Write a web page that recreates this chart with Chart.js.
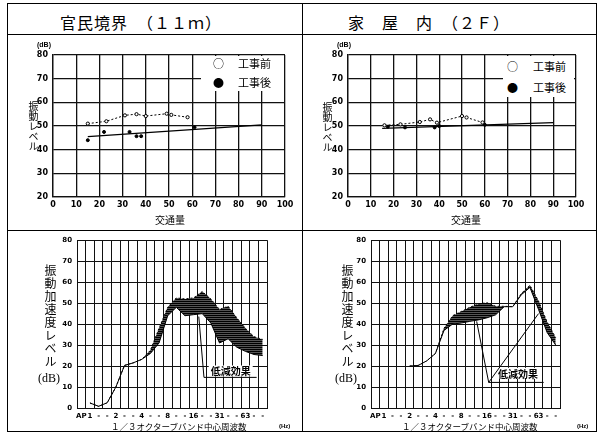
<!DOCTYPE html>
<html>
<head>
<meta charset="utf-8">
<script src="https://cdn.jsdelivr.net/npm/chart.js@4.4.0/dist/chart.umd.min.js"></script>
<style>
body { margin:0; background:#fff; }
#page { position:relative; width:601px; height:434px; overflow:hidden; font-family:"Noto Sans CJK JP", sans-serif; color:#000; }
#page div, #page canvas { position:absolute; }
.ln { background:#000; }
.ttl { font-size:16px; letter-spacing:1px; white-space:nowrap; top:13px; line-height:18px; }
.vt { writing-mode:vertical-rl; text-orientation:upright; white-space:nowrap; }
.sm { font-family:"Liberation Sans", sans-serif; font-size:7px; font-weight:bold; white-space:nowrap; line-height:8px; }
.xt { font-size:10px; line-height:12px; white-space:nowrap; }
.lg { background:#fff; font-size:11px; line-height:14px; }
.lg div { white-space:nowrap; }
.bx { font-size:8.5px; line-height:11px; white-space:nowrap; }
</style>
</head>
<body>
<div id="page">
  <!-- frame -->
  <div style="left:7px;top:3px;width:588px;height:427px;border:1px solid #000"></div>
  <div class="ln" style="left:302px;top:3px;width:1px;height:429px"></div>
  <div class="ln" style="left:7px;top:34px;width:590px;height:1px"></div>
  <div class="ln" style="left:7px;top:230px;width:590px;height:1px"></div>

  <div class="ttl" style="left:60px">官民境界　（１１ｍ）</div>
  <div class="ttl" style="left:348px">家　屋　内　（２Ｆ）</div>

  <canvas id="c1" width="293" height="180" style="left:8px;top:35px"></canvas>
  <canvas id="c2" width="293" height="180" style="left:303px;top:35px"></canvas>
  <canvas id="c3" width="293" height="200" style="left:8px;top:231px"></canvas>
  <canvas id="c4" width="293" height="200" style="left:303px;top:231px"></canvas>

  <!-- top axis texts -->
  <div class="sm" style="left:37px;top:41px">(dB)</div>
  <div class="sm" style="left:337px;top:41px">(dB)</div>
  <div class="vt" style="left:28px;top:101px;font-size:10px;line-height:10px">振動レベル</div>
  <div class="vt" style="left:322px;top:102px;font-size:10px;line-height:10px">振動レベル</div>
  <div class="xt" style="left:155px;top:214px">交通量</div>
  <div class="xt" style="left:451px;top:214px">交通量</div>

  <!-- legends -->
  <div class="lg" style="left:201px;top:56px;width:83px;height:35px">
    <div style="left:12px;top:0">○</div><div style="left:37px;top:0">工事前</div>
    <div style="left:12px;top:19px">●</div><div style="left:37px;top:19px">工事後</div>
  </div>
  <div class="lg" style="left:503px;top:56px;width:71px;height:41px">
    <div style="left:4px;top:3px">○</div><div style="left:30px;top:3px">工事前</div>
    <div style="left:4px;top:24px">●</div><div style="left:30px;top:24px">工事後</div>
  </div>

  <!-- bottom axis texts -->
  <div class="vt" style="left:44px;top:264px;font-size:12px;line-height:12px;letter-spacing:1px">振動加速度レベル</div>
  <div class="vt" style="left:341px;top:264px;font-size:12px;line-height:12px;letter-spacing:1px">振動加速度レベル</div>
  <div style="left:38px;top:371px;font-family:'Liberation Serif';font-size:12px;line-height:14px">(dB)</div>
  <div style="left:335px;top:371px;font-family:'Liberation Serif';font-size:12px;line-height:14px">(dB)</div>
  <div class="bx" style="left:111px;top:421px">１／３オクターブバンド中心周波数</div>
  <div class="bx" style="left:402px;top:421px">１／３オクターブバンド中心周波数</div>
  <div class="sm" style="left:279px;top:422px;font-size:6px">(Hz)</div>
  <div class="sm" style="left:577px;top:422px;font-size:6px">(Hz)</div>
</div>

<script>
// 交通量 - 振動レベル (官民境界)
var trafficBeforeL = [15, 23, 31, 36, 40, 49, 51, 58];
var levelBeforeL = [51, 52, 54.5, 55, 54.2, 55.2, 54.7, 53.7];
var trafficAfterL = [15, 22, 33, 36, 38, 61];
var levelAfterL = [44, 47.5, 47.5, 45.7, 45.7, 49.5];
var fitX = [15, 90];
var fitL = [45.5, 50.5];

// 交通量 - 振動レベル (家屋内)
var trafficBeforeR = [16, 23, 31.5, 36, 39, 50, 52, 59];
var levelBeforeR = [50.3, 50.7, 51.7, 52.8, 51.4, 54.2, 53.6, 51.5];
var trafficAfterR = [17.5, 25, 38, 40, 60];
var levelAfterR = [49.7, 49.4, 49.4, 50, 50.5];
var fitR = [49, 51.4];

// 1/3 octave band spectra
var bandLabels = ['AP','1','-','-','2','-','-','4','-','-','8','-','-','16','-','-','31','-','-','63','-','-'];
var specBeforeL = [null, 2.4, 0.8, 2.5, 10, 20.3, 21.5, 23.2, 27.5, 38, 48, 52.5, 52, 52.5, 55.5, 52, 47, 48.5, 43, 38, 34, 32.7];
var specAfterL  = [null, 2.4, 0.8, 2.5, 10, 20.3, 21.5, 23.2, 26, 31, 44, 48, 44, 44.5, 45, 40.5, 31, 33, 29, 27, 25.5, 25];
var specBeforeR = [null, null, null, null, 20, 20.3, 22.5, 26, 38, 44, 46, 48, 49.6, 50.2, 48.5, 48.5, 48.3, 54.6, 58.5, 51, 41, 33.5];
var specAfterR  = [null, null, null, null, 20, 20.3, 22.5, 26, 37, 40, 40.5, 41.3, 42, 43, 44.4, 48.3, 48.3, 54, 57.5, 47, 36, 30];

// 低減効果 leaders (band index, dB)
var leaderL = [[[13.6, 43.6], [14.2, 14.6], [20.3, 14.6]]];
var leaderR = [[[11.8, 41.3], [13.2, 12.2], [19.0, 45]], [[13.2, 12.2], [19.6, 12.2]]];
var labelAtL = [17.3, 17.4];
var labelAtR = [16.6, 16.3];

Chart.defaults.font.family = '"Noto Sans CJK JP", sans-serif';
var tickFont = {family: '"DejaVu Sans", sans-serif', size: 8, weight: 'bold'};

function pts(xs, ys) {
  return xs.map(function(x, i) { return {x: x, y: ys[i]}; });
}

function topChart(id, bx, by, ax, ay, fit, padR) {
  new Chart(document.getElementById(id), {
    type: 'scatter',
    data: {
      datasets: [
        {label: '工事前', data: pts(bx, by), showLine: true, borderDash: [2, 2], borderColor: '#000', borderWidth: 1,
         pointRadius: 1.6, pointBackgroundColor: '#fff', pointBorderColor: '#000', pointBorderWidth: 1},
        {label: '工事後', data: pts(ax, ay), showLine: false, pointRadius: 1.5, pointBackgroundColor: '#000', pointBorderColor: '#000'},
        {label: 'fit', data: pts(fitX, fit), showLine: true, borderColor: '#000', borderWidth: 1.2, pointRadius: 0}
      ]
    },
    options: {
      responsive: false, animation: false,
      layout: {padding: {left: 0, right: padR, top: 20, bottom: 0}},
      plugins: {legend: {display: false}, tooltip: {enabled: false}},
      scales: {
        x: {type: 'linear', min: 0, max: 100,
            ticks: {stepSize: 10, padding: 3, font: tickFont, color: '#000', maxRotation: 0},
            grid: {color: '#111', lineWidth: 1.3, drawTicks: false}, border: {color: '#111', width: 1.3},
            afterFit: function(s) { s.height = 18; }},
        y: {min: 20, max: 80,
            ticks: {stepSize: 10, padding: 5, font: tickFont, color: '#000'},
            grid: {color: '#111', lineWidth: 1.3, drawTicks: false}, border: {color: '#111', width: 1.3},
            afterFit: function(s) { s.width = 45; }}
      }
    }
  });
}

function hatch() {
  var c = document.createElement('canvas');
  c.width = 4; c.height = 2;
  var g = c.getContext('2d');
  g.fillStyle = '#555'; g.fillRect(0, 0, 4, 2);
  g.fillStyle = '#000'; g.fillRect(0, 0, 4, 1);
  return g.createPattern(c, 'repeat');
}

var leaderPlugin = {
  id: 'leader',
  afterDatasetsDraw: function(chart, args, opts) {
    var x = chart.scales.x, y = chart.scales.y, ctx = chart.ctx;
    ctx.save();
    var lx = x.getPixelForValue(opts.at[0]), ly = y.getPixelForValue(opts.at[1]);
    ctx.font = 'bold 10px "Noto Sans CJK JP"';
    var w = ctx.measureText(opts.text).width;
    ctx.fillStyle = '#fff';
    ctx.fillRect(lx - w / 2 - 2, ly - 6, w + 4, 11);
    ctx.fillStyle = '#000';
    ctx.textAlign = 'center';
    ctx.textBaseline = 'middle';
    ctx.fillText(opts.text, lx, ly);
    ctx.strokeStyle = '#000';
    ctx.lineWidth = 1;
    opts.paths.forEach(function(p) {
      ctx.beginPath();
      p.forEach(function(pt, i) {
        var px = x.getPixelForValue(pt[0]), py = y.getPixelForValue(pt[1]);
        if (i) ctx.lineTo(px, py); else ctx.moveTo(px, py);
      });
      ctx.stroke();
    });
    ctx.restore();
  }
};

function bandChart(id, before, after, paths, at, padR) {
  var bf = {family: '"DejaVu Sans", sans-serif', size: 7, weight: 'bold'};
  new Chart(document.getElementById(id), {
    type: 'line',
    data: {
      labels: bandLabels,
      datasets: [
        {label: '工事後', data: after, borderColor: '#000', borderWidth: 1, pointRadius: 0, fill: false, tension: 0},
        {label: '工事前', data: before, borderColor: '#000', borderWidth: 1, borderDash: [2, 2], pointRadius: 0, tension: 0,
         backgroundColor: hatch(), fill: 0}
      ]
    },
    plugins: [leaderPlugin],
    options: {
      responsive: false, animation: false,
      layout: {padding: {left: 0, right: padR, top: 7, bottom: 0}},
      plugins: {legend: {display: false}, tooltip: {enabled: false},
                filler: {drawTime: 'beforeDatasetsDraw'},
                leader: {paths: paths, at: at, text: '低減効果'}},
      scales: {
        x: {type: 'category', offset: true,
            ticks: {autoSkip: false, maxRotation: 0, padding: 4, font: bf, color: '#000'},
            grid: {offset: true, color: '#111', lineWidth: 1, drawTicks: false}, border: {color: '#111'},
            afterFit: function(s) { s.height = 23; }},
        y: {min: 0, max: 80,
            ticks: {stepSize: 10, padding: 5, font: bf, color: '#000'},
            grid: {color: '#111', lineWidth: 1, drawTicks: false}, border: {color: '#111'},
            afterFit: function(s) { s.width = padR === 34 ? 69 : 68; }}
      }
    }
  });
}

topChart('c1', trafficBeforeL, levelBeforeL, trafficAfterL, levelAfterL, fitL, 16);
topChart('c2', trafficBeforeR, levelBeforeR, trafficAfterR, levelAfterR, fitR, 20);
bandChart('c3', specBeforeL, specAfterL, leaderL, labelAtL, 34);
bandChart('c4', specBeforeR, specAfterR, leaderR, labelAtR, 36);
</script>
</body>
</html>
